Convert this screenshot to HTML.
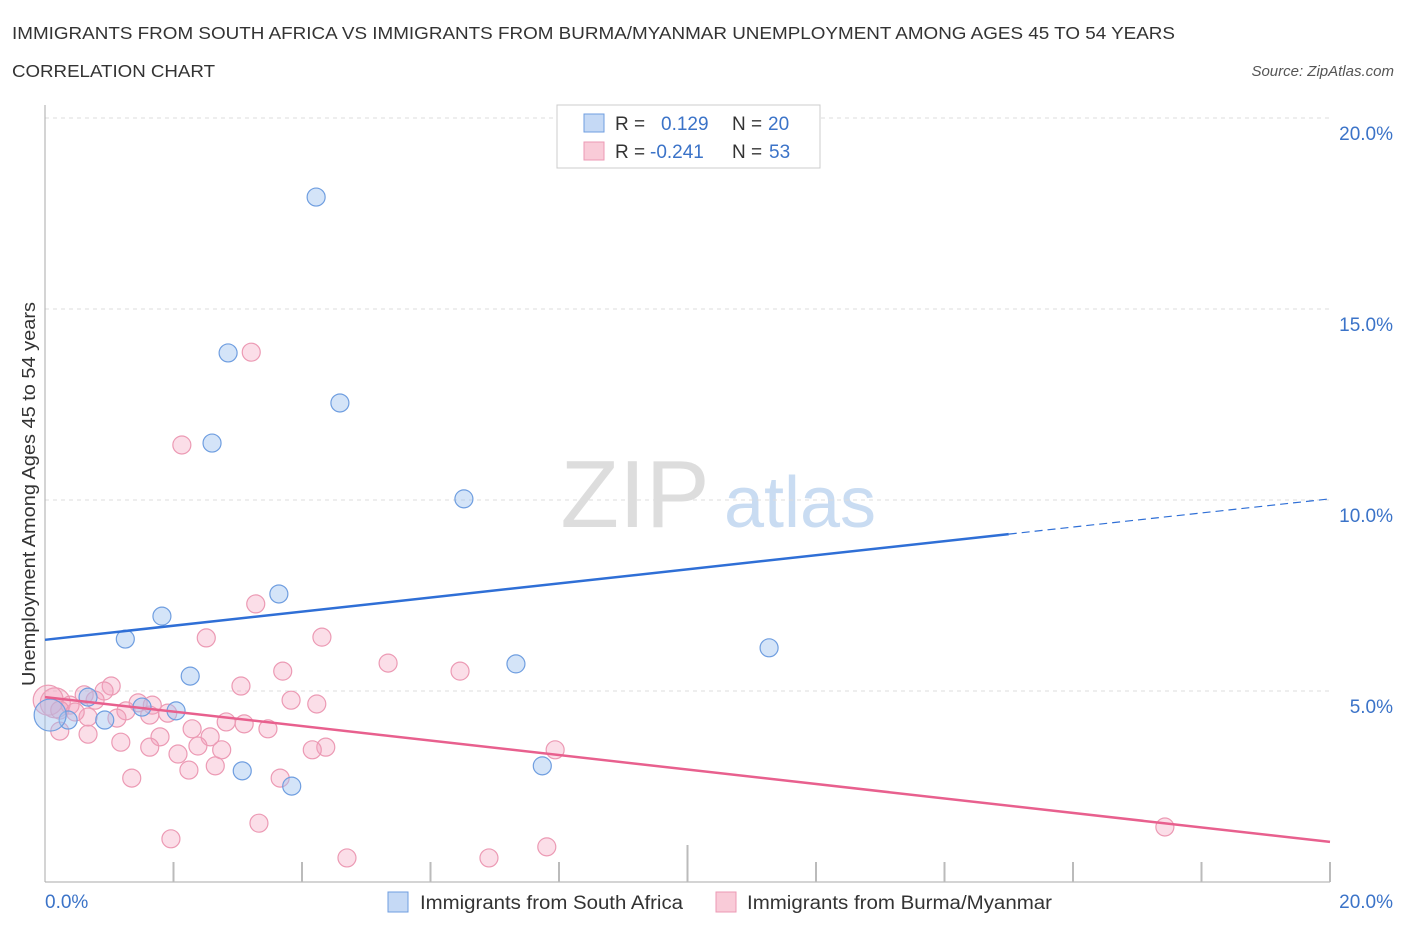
<!DOCTYPE html>
<html><head><meta charset="utf-8"><style>
body{margin:0;background:#fff;font-family:"Liberation Sans",sans-serif;}
svg text{font-family:"Liberation Sans",sans-serif;}
</style></head><body>
<svg id="c" width="1406" height="930" xmlns="http://www.w3.org/2000/svg">
<text x="12" y="39" font-size="17.5" fill="#333" textLength="1163" lengthAdjust="spacingAndGlyphs">IMMIGRANTS FROM SOUTH AFRICA VS IMMIGRANTS FROM BURMA/MYANMAR UNEMPLOYMENT AMONG AGES 45 TO 54 YEARS</text>
<text x="12" y="77" font-size="17.5" fill="#333" textLength="203" lengthAdjust="spacingAndGlyphs">CORRELATION CHART</text>
<text x="1394" y="76" font-size="15" font-style="italic" fill="#555" text-anchor="end">Source: ZipAtlas.com</text>
<text x="635" y="527" font-size="96" fill="#ddd" font-family="Liberation Serif" text-anchor="middle">ZIP</text>
<text x="800" y="527" font-size="72" fill="#c9dcf2" text-anchor="middle">atlas</text>
<g id="grid"></g>
<g id="axes"></g>
<g id="marks"></g>
<text x="35" y="494" font-size="18" fill="#333" text-anchor="middle" textLength="384" lengthAdjust="spacingAndGlyphs" transform="rotate(-90 35 494)">Unemployment Among Ages 45 to 54 years</text>
<g>
<rect x="557" y="105" width="263" height="63" fill="#fff" stroke="#ccc"/>
<rect x="584" y="114" width="20" height="18" fill="#c5d9f5" stroke="#6f9ee0"/>
<rect x="584" y="142" width="20" height="18" fill="#f9cbd8" stroke="#ec9ab4"/>
<text y="130" font-size="19" fill="#333"><tspan x="615">R =</tspan><tspan x="661" fill="#3b73c8">0.129</tspan><tspan x="732">N =</tspan><tspan x="768" fill="#3b73c8">20</tspan></text>
<text y="158" font-size="19" fill="#333"><tspan x="615">R =</tspan><tspan x="650" fill="#3b73c8">-0.241</tspan><tspan x="732">N =</tspan><tspan x="769" fill="#3b73c8">53</tspan></text>
</g>
<g>
<rect x="388" y="892" width="20" height="20" fill="#c5d9f5" stroke="#6f9ee0"/>
<text x="420" y="909" font-size="19" fill="#333" textLength="263" lengthAdjust="spacingAndGlyphs">Immigrants from South Africa</text>
<rect x="716" y="892" width="20" height="20" fill="#f9cbd8" stroke="#ec9ab4"/>
<text x="747" y="909" font-size="19" fill="#333" textLength="305" lengthAdjust="spacingAndGlyphs">Immigrants from Burma/Myanmar</text>
</g>
</svg>
<script>
const xTickLabels=["0.0%","20.0%"];
const yTicks=[5,10,15,20];
const yTickLabels=["5.0%","10.0%","15.0%","20.0%"];
const blueX=[4.22,2.85,4.59,2.60,6.52,3.64,1.82,1.25,11.27,7.33,2.26,0.67,1.51,2.04,0.36,0.93,0.08,3.07,7.74,3.84];
const blueY=[17.93,13.85,12.54,11.49,10.03,7.54,6.96,6.36,6.13,5.71,5.39,4.84,4.58,4.48,4.24,4.24,4.37,2.91,3.04,2.51];
const pinkX=[3.21,2.13,3.28,2.51,4.31,3.70,5.34,6.46,3.05,1.03,0.92,0.61,0.78,1.45,1.67,1.26,1.91,4.23,3.83,0.16,0.05,0.23,0.67,0.39,1.12,1.63,2.82,3.10,3.47,2.29,1.79,2.57,1.18,1.63,2.38,2.75,2.07,4.37,4.16,7.94,2.65,2.24,1.35,3.66,3.33,1.96,4.70,6.91,7.81,17.43,0.67,0.23,0.47];
const pinkY=[13.87,11.44,7.28,6.39,6.41,5.52,5.73,5.52,5.13,5.13,5.00,4.90,4.76,4.69,4.63,4.48,4.42,4.66,4.76,4.69,4.76,3.95,3.87,4.63,4.29,4.37,4.19,4.14,4.01,4.01,3.80,3.80,3.66,3.53,3.56,3.46,3.35,3.53,3.46,3.46,3.04,2.93,2.72,2.72,1.54,1.13,0.63,0.63,0.92,1.44,4.32,4.50,4.45];
const blueTrend=[6.34,10.03];
const pinkTrend=[4.84,1.05];
const NS="http://www.w3.org/2000/svg";
const X=v=>45+v/20*1285, Y=v=>882-v/20*764;
function mk(t,a,p){const e=document.createElementNS(NS,t);for(const k in a)e.setAttribute(k,a[k]);p.appendChild(e);return e;}
const grid=document.getElementById('grid'),axes=document.getElementById('axes'),marks=document.getElementById('marks');
yTicks.forEach((v,i)=>{
 const l=mk('line',{x1:45,x2:1330,y1:Y(v),y2:Y(v),stroke:'#ddd','stroke-dasharray':'4,4'},grid);
 
 
 const t=mk('text',{x:1393,y:Y(v)+22,'font-size':19,fill:'#3b73c8','text-anchor':'end'},axes);t.textContent=yTickLabels[i];
 
 
});
const ya=mk('line',{x1:45,x2:45,y1:105,y2:882,stroke:'#aaa'},axes);


const xa=mk('line',{x1:45,x2:1330,y1:882,y2:882,stroke:'#aaa'},axes);


for(let i=1;i<=10;i++){const tk=mk('line',{x1:X(i*2),x2:X(i*2),y1:(i==5?845:862),y2:882,stroke:'#bbb','stroke-width':2},axes);
 
 }
[[0,'start',45],[20,'end',1393]].forEach((a,i)=>{const t=mk('text',{x:a[2],y:908,'font-size':19,fill:'#3b73c8','text-anchor':a[1]},axes);t.textContent=xTickLabels[i];
 
 });
pinkX.forEach((x,i)=>{const c=mk('circle',{cx:X(x),cy:Y(pinkY[i]),r:(i==19||i==20)?15:9,fill:'rgba(244,160,188,0.35)',stroke:'#ec9ab4','stroke-width':1.2},marks);
 
 });
blueX.forEach((x,i)=>{const c=mk('circle',{cx:X(x),cy:Y(blueY[i]),r:i==16?16:9,fill:'rgba(160,195,240,0.45)',stroke:'#6f9ee0','stroke-width':1.2},marks);
 
 });
const bAt=v=>blueTrend[0]+(blueTrend[1]-blueTrend[0])*v/20;
const bl=mk('line',{x1:X(0),y1:Y(bAt(0)),x2:X(15),y2:Y(bAt(15)),stroke:'#2f6fd6','stroke-width':2.5},marks);


const bd=mk('line',{x1:X(15),y1:Y(bAt(15)),x2:X(20),y2:Y(bAt(20)),stroke:'#2f6fd6','stroke-width':1.2,'stroke-dasharray':'8,5'},marks);


const pl=mk('line',{x1:X(0),y1:Y(pinkTrend[0]),x2:X(20),y2:Y(pinkTrend[1]),stroke:'#e8608e','stroke-width':2.5},marks);


</script>
</body></html>
